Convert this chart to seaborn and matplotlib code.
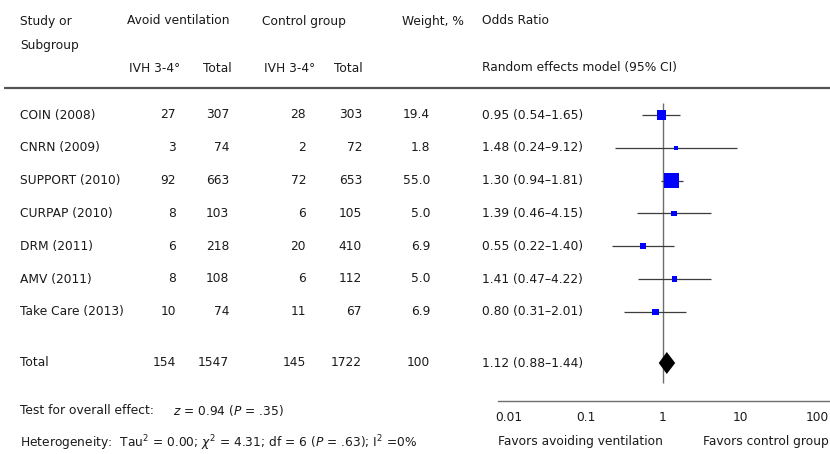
import numpy as np
import pandas as pd
import matplotlib
matplotlib.use("Agg")
import matplotlib.pyplot as plt
import seaborn as sns

# Study-level data
studies = ["COIN (2008)", "CNRN (2009)", "SUPPORT (2010)", "CURPAP (2010)",
           "DRM (2011)", "AMV (2011)", "Take Care (2013)"]
avoid_events = [27, 3, 92, 8, 6, 8, 10]
avoid_total = [307, 74, 663, 103, 218, 108, 74]
ctrl_events = [28, 2, 72, 6, 20, 6, 11]
ctrl_total = [303, 72, 653, 105, 410, 112, 67]
weight = [19.4, 1.8, 55.0, 5.0, 6.9, 5.0, 6.9]
odds = [0.95, 1.48, 1.30, 1.39, 0.55, 1.41, 0.80]
ci_low = [0.54, 0.24, 0.94, 0.46, 0.22, 0.47, 0.31]
ci_high = [1.65, 9.12, 1.81, 4.15, 1.40, 4.22, 2.01]

# Pooled estimate
total_avoid_events, total_avoid_n = 154, 1547
total_ctrl_events, total_ctrl_n = 145, 1722
total_weight = 100
pooled_or, pooled_low, pooled_high = 1.12, 0.88, 1.44

axis_ticks = [0.01, 0.1, 1, 10, 100]
axis_ticklabels = ["0.01", "0.1", "1", "10", "100"]

sns.set_style("white")
plt.rcParams["font.family"] = ["DejaVu Sans"]
plt.rcParams["mathtext.fontset"] = "dejavusans"

W, H = 830, 454
FS = 8.8
TXT = "#1a1a1a"
LINE = "#6e6e6e"

fig = plt.figure(figsize=(W / 100, H / 100), dpi=100)

# Table layer in pixel-like layout units
tax = fig.add_axes([0, 0, 1, 1])
tax.set_xlim(0, W)
tax.set_ylim(H, 0)
tax.axis("off")

row_y = 115 + 32.8 * np.arange(len(studies))
total_y = 363
axis_y = 401

def put(x, y, s, ha="left", **kw):
    tax.text(x, y, s, ha=ha, va="center", fontsize=FS, color=TXT, **kw)

# Header
put(20, 21, "Study or")
put(20, 45, "Subgroup")
put(127, 21, "Avoid ventilation")
put(262, 21, "Control group")
put(402, 21, "Weight, %")
put(482, 21, "Odds Ratio")
put(129, 68, "IVH 3-4°")
put(203, 68, "Total")
put(264, 68, "IVH 3-4°")
put(334, 68, "Total")
put(482, 68, "Random effects model (95% CI)")
tax.plot([4, W], [88, 88], color="#555555", lw=1.6, solid_capstyle="butt")

# Study rows
for i, name in enumerate(studies):
    y = row_y[i]
    put(20, y, name)
    put(176, y, str(avoid_events[i]), ha="right")
    put(229, y, str(avoid_total[i]), ha="right")
    put(306, y, str(ctrl_events[i]), ha="right")
    put(362, y, str(ctrl_total[i]), ha="right")
    put(430, y, f"{weight[i]:.1f}", ha="right")
    put(482, y, f"{odds[i]:.2f} ({ci_low[i]:.2f}\u2013{ci_high[i]:.2f})")

# Total row
put(20, total_y, "Total")
put(176, total_y, str(total_avoid_events), ha="right")
put(229, total_y, str(total_avoid_n), ha="right")
put(306, total_y, str(total_ctrl_events), ha="right")
put(362, total_y, str(total_ctrl_n), ha="right")
put(430, total_y, str(total_weight), ha="right")
put(482, total_y, f"{pooled_or:.2f} ({pooled_low:.2f}\u2013{pooled_high:.2f})")

# Footer statistics
put(20, 411, "Test for overall effect:")
put(173, 411, r"$z$ = 0.94 ($P$ = .35)")
put(20, 443, r"Heterogeneity:  Tau$^2$ = 0.00; $\chi^2$ = 4.31; df = 6 ($P$ = .63); I$^2$ =0%")
put(498, 442, "Favors avoiding ventilation")
put(W - 1, 442, "Favors control group", ha="right")

# Forest plot on a log odds-ratio scale
x_left, x_right, x_one, decade = 498, W, 663, 77.0
fax = fig.add_axes([x_left / W, (H - axis_y) / H, (x_right - x_left) / W, axis_y / H])
fax.set_facecolor("none")
fax.set_xscale("log")
fax.set_xlim(10 ** ((x_left - x_one) / decade), 10 ** ((x_right - x_one) / decade))
fax.set_ylim(axis_y, 0)
for side in ["top", "left", "right"]:
    fax.spines[side].set_visible(False)
fax.spines["bottom"].set_color(LINE)
fax.spines["bottom"].set_linewidth(1.0)
fax.set_xticks(axis_ticks)
fax.set_xticklabels(axis_ticklabels)
fax.minorticks_off()
fax.set_yticks([])
fax.tick_params(axis="x", direction="inout", length=9, width=1.0, color="#444444",
                labelsize=FS, labelcolor=TXT, pad=3)

# Line of no effect
fax.vlines(1, row_y[0] - 12, axis_y - 18, color=LINE, lw=1.0, zorder=1)

# Confidence intervals
fax.hlines(row_y, ci_low, ci_high, color="#3c3c3c", lw=0.9, zorder=2)

df = pd.DataFrame({"study": studies, "odds": odds, "ypos": row_y, "weight": weight})
sns.scatterplot(data=df, x="odds", y="ypos", size="weight", sizes=(10, 120),
                marker="s", color="#0000ff", linewidth=0, legend=False,
                ax=fax, zorder=3)
fax.set_xlabel("")
fax.set_ylabel("")

# Pooled diamond
half_h = 11
fax.fill([pooled_low, pooled_or, pooled_high, pooled_or],
         [total_y, total_y - half_h, total_y, total_y + half_h],
         color="black", zorder=3, lw=0)

fig.savefig("out.png", dpi=100)
